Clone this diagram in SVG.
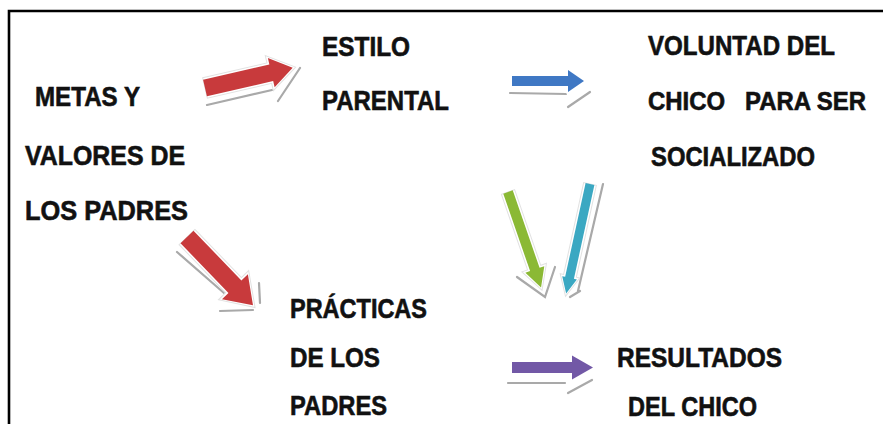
<svg xmlns="http://www.w3.org/2000/svg" width="883" height="424" viewBox="0 0 883 424">
<style>
text{font-family:"Liberation Sans",Arial,sans-serif;font-weight:bold;font-size:27px;fill:#111;stroke:#111;stroke-width:0.6;}
.halo{fill:none;stroke:#fff;stroke-width:4;stroke-linejoin:round;}
.edge{fill:none;stroke:#e2e2e2;stroke-width:1;}
.sh{fill:none;stroke:#a9a9a9;stroke-width:2.2;stroke-linecap:round;}
</style>
<rect x="0" y="0" width="883" height="424" fill="#fff"/>
<path d="M9,424 V11 H883" fill="none" stroke="#000" stroke-width="2.6"/>

<g id="metas">
<text x="35" y="106" textLength="105" lengthAdjust="spacingAndGlyphs">METAS Y</text>
<text x="25" y="165" textLength="160" lengthAdjust="spacingAndGlyphs">VALORES DE</text>
<text x="25" y="220" textLength="163" lengthAdjust="spacingAndGlyphs">LOS PADRES</text>
</g>
<g id="estilo">
<text x="322" y="56" textLength="88" lengthAdjust="spacingAndGlyphs">ESTILO</text>
<text x="322" y="110" textLength="127" lengthAdjust="spacingAndGlyphs">PARENTAL</text>
</g>
<g id="voluntad">
<text x="648" y="55" textLength="187" lengthAdjust="spacingAndGlyphs">VOLUNTAD DEL</text>
<text x="648" y="110" style="font-size:25px" textLength="218" lengthAdjust="spacingAndGlyphs" xml:space="preserve">CHICO   PARA SER</text>
<text x="651" y="166" textLength="164" lengthAdjust="spacingAndGlyphs">SOCIALIZADO</text>
</g>
<g id="practicas">
<text x="290" y="318" textLength="137" lengthAdjust="spacingAndGlyphs">PRÁCTICAS</text>
<text x="290" y="367" textLength="90" lengthAdjust="spacingAndGlyphs">DE LOS</text>
<text x="290" y="415" textLength="97" lengthAdjust="spacingAndGlyphs">PADRES</text>
</g>
<g id="resultados">
<text x="617" y="367" textLength="165" lengthAdjust="spacingAndGlyphs">RESULTADOS</text>
<text x="628" y="416" textLength="129" lengthAdjust="spacingAndGlyphs">DEL CHICO</text>
</g>

<g id="connectors">
<!-- metas -> estilo -->
<g>
<path class="sh" d="M207,105 L272,90 M278,101 L300,68"/>
<g transform="translate(205,88) rotate(-13)">
<path class="halo" d="M0,-8.5 H68 V-15 L90,0 L68,15 V8.5 H0 Z"/>
<path class="edge" d="M0,-10.5 H66 V-18 L93,0 L66,18 V10.5 H0 Z"/>
<path fill="#c83a3c" d="M0,-8.5 H68 V-15 L90,0 L68,15 V8.5 H0 Z"/>
</g>
</g>
<!-- estilo -> voluntad -->
<g>
<path class="sh" d="M510,93 L566,94 M568,107 L590,92"/>
<g transform="translate(512,81)">
<path class="halo" d="M0,-5 H56 V-11 L72,0 L56,11 V5 H0 Z"/>
<path fill="#3f78c4" d="M0,-5 H56 V-11 L72,0 L56,11 V5 H0 Z"/>
</g>
</g>
<!-- metas -> practicas -->
<g>
<path class="sh" d="M177,252 L224,293 M220,311 L253,310 M259,283 L260,303"/>
<g transform="translate(187,237) rotate(46)">
<path class="halo" d="M0,-9 H69 V-18 L95,0 L69,18 V9 H0 Z"/>
<path class="edge" d="M0,-11 H67 V-21 L98,0 L67,21 V11 H0 Z"/>
<path fill="#c83a3c" d="M0,-9 H69 V-18 L95,0 L69,18 V9 H0 Z"/>
</g>
</g>
<!-- estilo -> resultados -->
<g>
<path class="sh" d="M517,277 L545,297 L555,267"/>
<g transform="translate(508,192) rotate(70.9)">
<path class="halo" d="M0,-5 H82 V-10 L101,0 L82,10 V5 H0 Z"/>
<path class="edge" d="M0,-7 H80 V-13 L104,0 L80,13 V7 H0 Z"/>
<path fill="#8bb935" d="M0,-5 H82 V-10 L101,0 L82,10 V5 H0 Z"/>
</g>
</g>
<!-- voluntad -> resultados -->
<g>
<path class="sh" d="M603,184 L578,291 M570,297 L580,291"/>
<g transform="translate(590,184) rotate(102.3)">
<path class="halo" d="M0,-4.5 H96 V-7.5 L112,0 L96,7.5 V4.5 H0 Z"/>
<path class="edge" d="M0,-6.5 H94 V-10 L115,0 L94,10 V6.5 H0 Z"/>
<path fill="#3ba8c2" d="M0,-4.5 H96 V-7.5 L112,0 L96,7.5 V4.5 H0 Z"/>
</g>
</g>
<!-- practicas -> resultados -->
<g>
<path class="sh" d="M508,383 L565,383 M568,393 L592,380"/>
<g transform="translate(512,367.5)">
<path class="halo" d="M0,-5.5 H60 V-12 L81,0 L60,12 V5.5 H0 Z"/>
<path fill="#7258a6" d="M0,-5.5 H60 V-12 L81,0 L60,12 V5.5 H0 Z"/>
</g>
</g>
</g>
</svg>
